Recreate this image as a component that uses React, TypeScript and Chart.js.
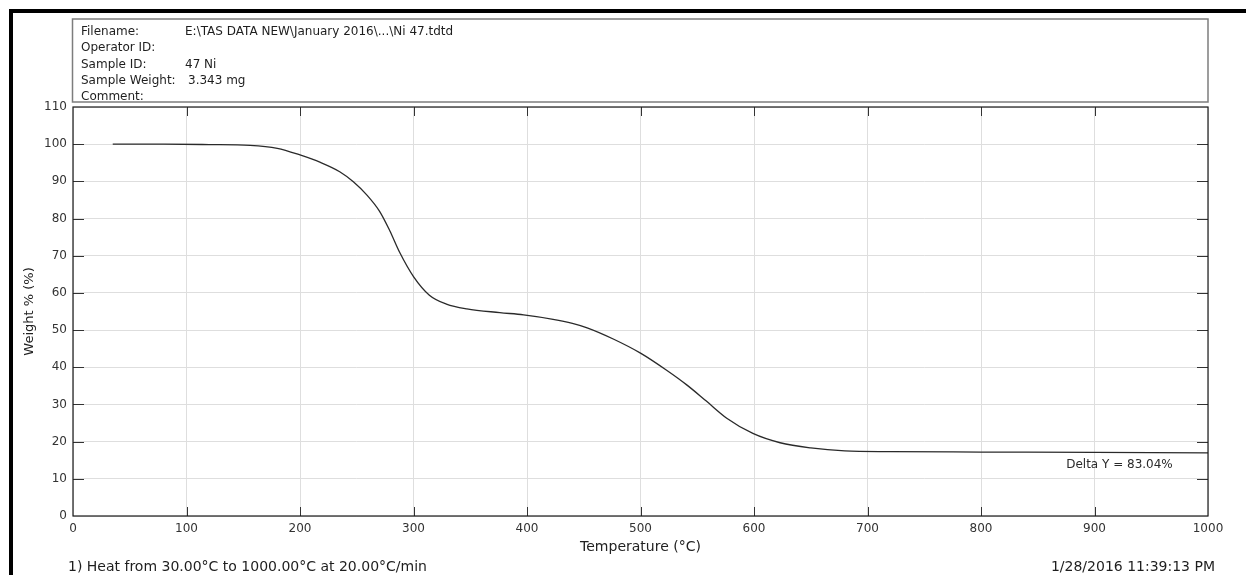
import React, { useEffect, useRef } from "react";
import { Chart, registerables } from "chart.js";

Chart.register(...registerables);

// ---- Data ----
const temperatures = [35, 80, 120, 156, 180, 200, 218, 235, 247, 259, 270, 279, 288, 300, 314, 329, 347, 376, 397, 423, 440, 453, 476, 500, 523, 541, 558, 576, 599, 623, 650, 680, 720, 800, 900, 1000];
const weights = [100, 100, 99.9, 99.7, 98.9, 97.1, 95.1, 92.6, 89.9, 86.3, 82.0, 76.8, 70.8, 64.4, 59.4, 57.0, 55.7, 54.7, 54.1, 52.9, 51.8, 50.6, 47.6, 43.8, 39.2, 35.2, 30.9, 26.3, 22.2, 19.7, 18.3, 17.5, 17.3, 17.2, 17.1, 16.96];

const xMin = 0;
const xMax = 1000;
const xStep = 100;
const yMin = 0;
const yMax = 110;
const yStep = 10;

const xTitle = "Temperature (°C)";
const yTitle = "Weight % (%)";

const headerLabels = ["Filename:", "Operator ID:", "Sample ID:", "Sample Weight:", "Comment:"];
const headerValues = ["E:\\TAS DATA NEW\\January 2016\\...\\Ni 47.tdtd", "", "47 Ni", "3.343 mg", ""];

const deltaText = "Delta Y = 83.04%";
const deltaAt = { x: 922, y: 13.7 };
const methodText = "1) Heat from 30.00°C to 1000.00°C at 20.00°C/min";
const dateText = "1/28/2016 11:39:13 PM";

// ---- Styling ----
const FONT = "'DejaVu Sans', 'Liberation Sans', Arial, sans-serif";
const W = 1246;
const H = 575;
const headerValueX = [185, 185, 185, 188, 185];

const decorPlugin = {
  id: "decor",
  beforeDraw(chart: any) {
    const ctx = chart.ctx;
    ctx.save();
    ctx.fillStyle = "#ffffff";
    ctx.fillRect(0, 0, W, H);
    // thick black frame (top and left)
    ctx.fillStyle = "#000000";
    ctx.fillRect(9, 9, W - 9, 4);
    ctx.fillRect(9, 9, 4, H - 9);
    ctx.restore();
  },
  afterDraw(chart: any) {
    const ctx = chart.ctx;
    const area = chart.chartArea;
    const xs = chart.scales.x;
    const ys = chart.scales.y;
    ctx.save();

    // header box
    ctx.strokeStyle = "#7d7d7d";
    ctx.lineWidth = 1.5;
    ctx.strokeRect(area.left - 0.5, 19, area.right - area.left + 0.5, 83);
    ctx.fillStyle = "#1e1e1e";
    ctx.font = `12px ${FONT}`;
    ctx.textBaseline = "middle";
    ctx.textAlign = "left";
    headerLabels.forEach((lab, i) => {
      const yy = 32 + i * 16.2;
      ctx.fillText(lab, 81, yy);
      if (headerValues[i]) ctx.fillText(headerValues[i], headerValueX[i], yy);
    });

    // inward tick marks
    ctx.strokeStyle = "#333333";
    ctx.lineWidth = 1;
    ctx.beginPath();
    xs.ticks.forEach((t: any) => {
      if (t.value <= xMin || t.value >= xMax) return;
      const px = Math.round(xs.getPixelForValue(t.value)) + 0.5;
      ctx.moveTo(px, area.bottom);
      ctx.lineTo(px, area.bottom - 9);
      ctx.moveTo(px, area.top);
      ctx.lineTo(px, area.top + 9);
    });
    ys.ticks.forEach((t: any) => {
      if (t.value <= yMin || t.value >= yMax) return;
      const py = Math.round(ys.getPixelForValue(t.value)) + 0.5;
      ctx.moveTo(area.left, py);
      ctx.lineTo(area.left + 11, py);
      ctx.moveTo(area.right, py);
      ctx.lineTo(area.right - 11, py);
    });
    ctx.stroke();

    // plot border
    ctx.strokeStyle = "#1a1a1a";
    ctx.lineWidth = 1.2;
    ctx.strokeRect(area.left, area.top, area.right - area.left, area.bottom - area.top);

    // delta label
    ctx.fillStyle = "#2a2a2a";
    ctx.font = `12px ${FONT}`;
    ctx.textAlign = "center";
    ctx.textBaseline = "middle";
    ctx.fillText(deltaText, xs.getPixelForValue(deltaAt.x), ys.getPixelForValue(deltaAt.y));

    // footer texts
    ctx.fillStyle = "#1e1e1e";
    ctx.font = `14px ${FONT}`;
    ctx.textAlign = "left";
    ctx.fillText(methodText, 68, 567);
    ctx.textAlign = "right";
    ctx.fillText(dateText, 1215, 567);

    ctx.restore();
  },
};

export default function App() {
  const canvasRef = useRef<HTMLCanvasElement | null>(null);

  useEffect(() => {
    document.body.style.margin = "0";
    const canvas = canvasRef.current;
    if (!canvas) return;
    const points = temperatures.map((t, i) => ({ x: t, y: weights[i] }));
    const gridColor = "#dedede";
    const chart = new Chart(canvas, {
      type: "line",
      data: {
        datasets: [
          {
            data: points,
            borderColor: "#2a2a2a",
            borderWidth: 1.3,
            pointRadius: 0,
            fill: false,
            cubicInterpolationMode: "monotone",
          },
        ],
      },
      options: {
        responsive: false,
        animation: false,
        devicePixelRatio: 1,
        events: [],
        layout: { padding: { left: 0, top: 107, right: W - 1208, bottom: 0 } },
        plugins: {
          legend: { display: false },
          tooltip: { enabled: false },
          title: { display: false },
        },
        scales: {
          x: {
            type: "linear",
            min: xMin,
            max: xMax,
            afterFit: (s: any) => {
              s.height = 59;
            },
            ticks: {
              stepSize: xStep,
              padding: 6,
              color: "#333333",
              font: { family: FONT, size: 12 },
              maxRotation: 0,
              callback: (v: any) => String(v),
            },
            grid: { color: gridColor, lineWidth: 1, drawTicks: false },
            border: { display: false },
            title: {
              display: true,
              text: xTitle,
              color: "#222222",
              font: { family: FONT, size: 14 },
              padding: { top: 0, bottom: 19 },
            },
          },
          y: {
            type: "linear",
            min: yMin,
            max: yMax,
            afterFit: (s: any) => {
              s.width = 73;
            },
            ticks: {
              stepSize: yStep,
              padding: 6,
              color: "#333333",
              font: { family: FONT, size: 12 },
              callback: (v: any) => String(v),
            },
            grid: { color: gridColor, lineWidth: 1, drawTicks: false },
            border: { display: false },
            title: {
              display: true,
              text: yTitle,
              color: "#222222",
              font: { family: FONT, size: 13 },
              padding: { top: 22, bottom: 0 },
            },
          },
        },
      },
      plugins: [decorPlugin],
    } as any);
    return () => chart.destroy();
  }, []);

  return (
    <div style={{ position: "absolute", left: 0, top: 0, width: W, height: H }}>
      <canvas ref={canvasRef} width={W} height={H} style={{ display: "block" }} />
    </div>
  );
}
